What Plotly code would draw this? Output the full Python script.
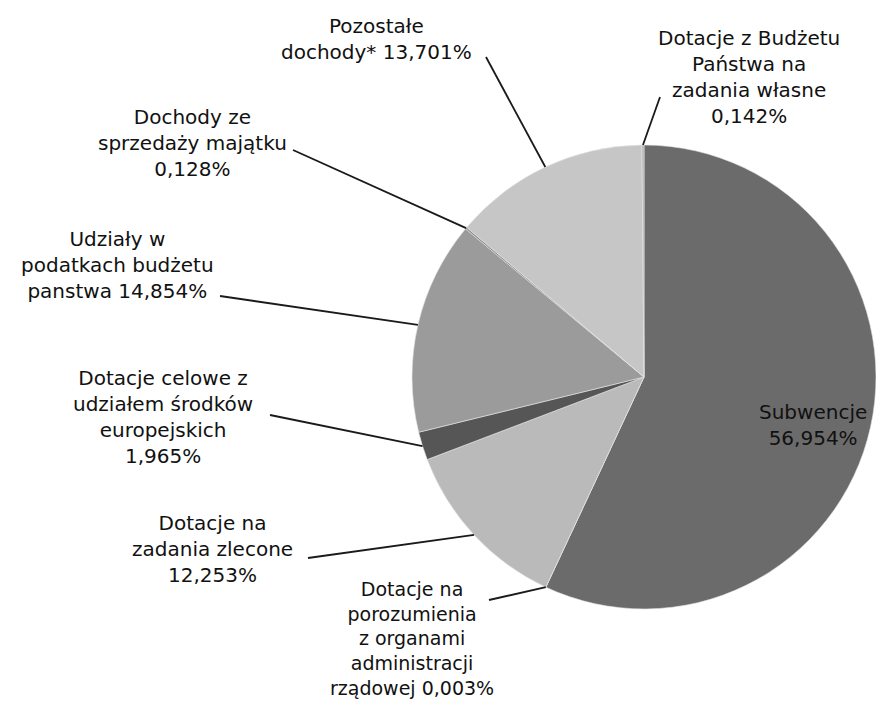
import numpy as np
import plotly.graph_objects as go

W, H = 884, 706
OFF = 8  # page body margin shifts the figure by 8px

# slices, clockwise from 12 o'clock
labels = [
    "Subwencje",
    "Dotacje na porozumienia z organami administracji rządowej",
    "Dotacje na zadania zlecone",
    "Dotacje celowe z udziałem środków europejskich",
    "Udziały w podatkach budżetu panstwa",
    "Dochody ze sprzedaży majątku",
    "Pozostałe dochody*",
    "Dotacje z Budżetu Państwa na zadania własne",
]
values = [56.954, 0.003, 12.253, 1.965, 14.854, 0.128, 13.701, 0.142]
colors = ["#6b6b6b", "#5a5a5a", "#bababa", "#565656", "#9b9b9b", "#8a8a8a", "#c6c6c6", "#b0b0b0"]

label_texts = [
    "Subwencje<br>56,954%",
    "Dotacje na<br>porozumienia<br>z organami<br>administracji<br>rządowej 0,003%",
    "Dotacje na<br>zadania zlecone<br>12,253%",
    "Dotacje celowe z<br>udziałem środków<br>europejskich<br>1,965%",
    "Udziały w<br>podatkach budżetu<br>panstwa 14,854%",
    "Dochody ze<br>sprzedaży majątku<br>0,128%",
    "Pozostałe<br>dochody* 13,701%",
    "Dotacje z Budżetu<br>Państwa na<br>zadania własne<br>0,142%",
]
# label centres (px), font sizes and leader-line start (px); None = no leader
label_pos = [(813, 425), (412, 638), (212, 549), (163, 417), (117, 265), (192, 143), (376, 39), (749, 77)]
label_size = [20, 19, 20, 20, 20, 20, 20, 20]
leader_start = [None, (489, 600), (308, 558), (270, 415), (220, 296), (293, 150), (486, 57), (660, 97)]

cx, cy, r = 644, 377, 232


def px(x, y):
    return (x - OFF) / W, 1 - (y - OFF) / H


x0, y0 = px(cx - r, cy + r)
x1, y1 = px(cx + r, cy - r)

fig = go.Figure(
    go.Pie(
        labels=labels,
        values=values,
        sort=False,
        direction="clockwise",
        rotation=0,
        marker=dict(colors=colors, line=dict(color="#e6e6e6", width=0.6)),
        textinfo="none",
        hoverinfo="label+percent",
        domain=dict(x=[x0, x1], y=[y0, y1]),
    )
)

total = sum(values)
cum = np.cumsum([0] + values)
shapes = []
annotations = []
for i, txt in enumerate(label_texts):
    ax_, ay_ = px(*label_pos[i])
    annotations.append(
        dict(x=ax_, y=ay_, xref="paper", yref="paper", text=txt,
             xanchor="center", yanchor="middle",
             showarrow=False, align="center",
             font=dict(family="DejaVu Sans, Verdana, sans-serif",
                       size=label_size[i], color="#111111"))
    )
    if leader_start[i] is None:
        continue
    ang = 2 * np.pi * (cum[i] + values[i] / 2) / total
    ex, ey = px(cx + r * np.sin(ang), cy - r * np.cos(ang))
    sx, sy = px(*leader_start[i])
    shapes.append(
        dict(type="line", xref="paper", yref="paper",
             x0=sx, y0=sy, x1=ex, y1=ey,
             line=dict(color="#1a1a1a", width=1.8))
    )

fig.update_layout(
    width=W,
    height=H,
    margin=dict(l=0, r=0, t=0, b=0),
    paper_bgcolor="white",
    showlegend=False,
    shapes=shapes,
    annotations=annotations,
)

fig.write_html("out.html")
